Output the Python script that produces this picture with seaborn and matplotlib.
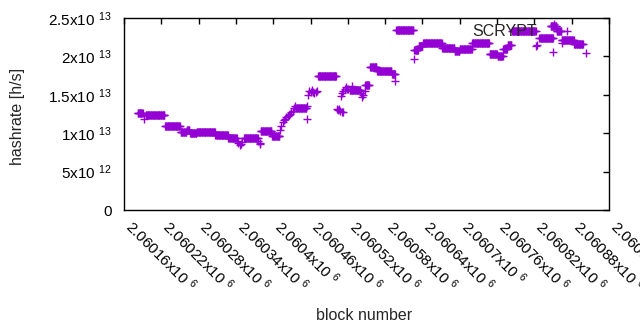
import numpy as np
import pandas as pd
import matplotlib
matplotlib.use("Agg")
import matplotlib.pyplot as plt
import seaborn as sns

# ---- data (hashrate in units of 1e13 h/s) ----
# runs of consecutive blocks sharing the same hashrate
run_start = [2060182, 2060195, 2060226, 2060251, 2060261, 2060266, 2060277, 2060307, 2060328,
             2060353, 2060380, 2060398, 2060437, 2060472, 2060523, 2060548, 2060556, 2060567,
             2060591, 2060598, 2060627, 2060634, 2060641, 2060672, 2060692, 2060700, 2060720,
             2060748, 2060761, 2060770, 2060777, 2060784, 2060828, 2060846, 2060856, 2060864,
             2060884]
run_end = [2060190, 2060225, 2060250, 2060260, 2060265, 2060276, 2060306, 2060327, 2060341,
           2060375, 2060397, 2060410, 2060453, 2060501, 2060540, 2060554, 2060566, 2060590,
           2060596, 2060625, 2060633, 2060640, 2060671, 2060691, 2060699, 2060719, 2060747,
           2060760, 2060769, 2060776, 2060783, 2060822, 2060850, 2060855, 2060863, 2060883,
           2060898]
run_value = [1.26, 1.233, 1.09, 1.02, 1.045, 1.0, 1.012, 0.983, 0.94,
             0.944, 1.035, 0.963, 1.328, 1.74, 1.566, 1.63, 1.86, 1.81,
             1.77, 2.34, 2.08, 2.13, 2.17, 2.105, 2.07, 2.09, 2.18,
             2.03, 2.0, 2.1, 2.15, 2.325, 2.235, 2.40, 2.33, 2.22,
             2.16]

# individual blocks
point_block = [2060192, 2060342, 2060344, 2060346, 2060348, 2060350, 2060376, 2060378, 2060379,
               2060411, 2060413, 2060415, 2060417, 2060419, 2060421, 2060423, 2060425, 2060427,
               2060429, 2060431, 2060433, 2060435, 2060454, 2060455, 2060456, 2060458, 2060460,
               2060462, 2060464, 2060466, 2060468, 2060470, 2060502, 2060504, 2060506, 2060508,
               2060510, 2060512, 2060509, 2060511, 2060513, 2060515, 2060517, 2060519, 2060521,
               2060527, 2060541, 2060543, 2060545, 2060547, 2060596, 2060626, 2060823, 2060825,
               2060850, 2060851, 2060865, 2060873, 2060903]
point_value = [1.18, 0.9, 0.87, 0.84, 0.86, 0.89, 0.9, 0.87, 0.86,
               1.04, 1.1, 1.14, 1.17, 1.19, 1.21, 1.23, 1.24, 1.25,
               1.27, 1.29, 1.33, 1.36, 1.19, 1.35, 1.50, 1.55, 1.53,
               1.56, 1.54, 1.52, 1.53, 1.55, 1.32, 1.30, 1.31, 1.29,
               1.27, 1.28, 1.48, 1.52, 1.55, 1.58, 1.60, 1.58, 1.57,
               1.62, 1.52, 1.47, 1.50, 1.55, 1.68, 1.96, 2.14, 2.15,
               2.06, 2.42, 2.17, 2.33, 2.05]

x_ticks = [2060160, 2060220, 2060280, 2060340, 2060400, 2060460, 2060520,
           2060580, 2060640, 2060700, 2060760, 2060820, 2060880, 2060940]
x_tick_mant = ["2.06016", "2.06022", "2.06028", "2.06034", "2.0604", "2.06046", "2.06052",
               "2.06058", "2.06064", "2.0607", "2.06076", "2.06082", "2.06088", "2.06094"]
y_ticks = [0, 5e12, 1e13, 1.5e13, 2e13, 2.5e13]
y_tick_text = [("0", None), ("5x10", "12"), ("1x10", "13"), ("1.5x10", "13"),
               ("2x10", "13"), ("2.5x10", "13")]
series_name = "SCRYPT"

# ---- build table ----
blocks, values = [], []
for s, e, v in zip(run_start, run_end, run_value):
    for b in range(s, e + 1):
        blocks.append(b)
        values.append(v * 1e13)
for b, v in zip(point_block, point_value):
    blocks.append(b)
    values.append(v * 1e13)
df = pd.DataFrame({"block": blocks, "hashrate": values})

# ---- style ----
sns.set_style("white")
plt.rcParams["font.family"] = ["Liberation Sans", "DejaVu Sans"]
plt.rcParams["mathtext.fontset"] = "custom"
plt.rcParams["mathtext.rm"] = "Liberation Sans"
plt.rcParams["mathtext.it"] = "Liberation Sans:italic"
plt.rcParams["mathtext.bf"] = "Liberation Sans:bold"

W, H = 640, 330
fig = plt.figure(figsize=(W / 100, H / 100), dpi=100)
L, R, T, B = 124, 609, 18, 210
ax = fig.add_axes([L / W, 1 - B / H, (R - L) / W, (B - T) / H])

sns.scatterplot(data=df, x="block", y="hashrate", marker="+", s=30, linewidth=1.0,
                color="#9400D3", ax=ax, legend=False)

ax.set_xlim(x_ticks[0], x_ticks[-1])
ax.set_ylim(y_ticks[0], y_ticks[-1])
ax.set_xlabel("")
ax.set_ylabel("")

ax.set_xticks(x_ticks)
ax.set_xticklabels([m + "x10 $^{6}$" for m in x_tick_mant], rotation=-45,
                   ha="left", va="baseline", rotation_mode="anchor", fontsize=11)
ax.set_yticks(y_ticks)
ax.set_yticklabels([t if e is None else t + " $^{" + e + "}$" for t, e in y_tick_text],
                   fontsize=11)

ax.tick_params(axis="both", direction="in", length=4, width=1, color="black",
               top=True, right=True, labelcolor="black")
ax.tick_params(axis="x", pad=13)
ax.tick_params(axis="y", pad=9)
for sp in ax.spines.values():
    sp.set_visible(True)
    sp.set_color("black")
    sp.set_linewidth(1)

fig.text(18 / W, 1 - 116 / H, "hashrate [h/s]", rotation=90, ha="center", va="center",
         fontsize=11.5)
fig.text(364 / W, 1 - 316 / H, "block number", ha="center", va="center", fontsize=11.5)
fig.text(537 / W, 1 - 31 / H, series_name, ha="right", va="center", fontsize=11.5)

fig.savefig("out.png", dpi=100)
